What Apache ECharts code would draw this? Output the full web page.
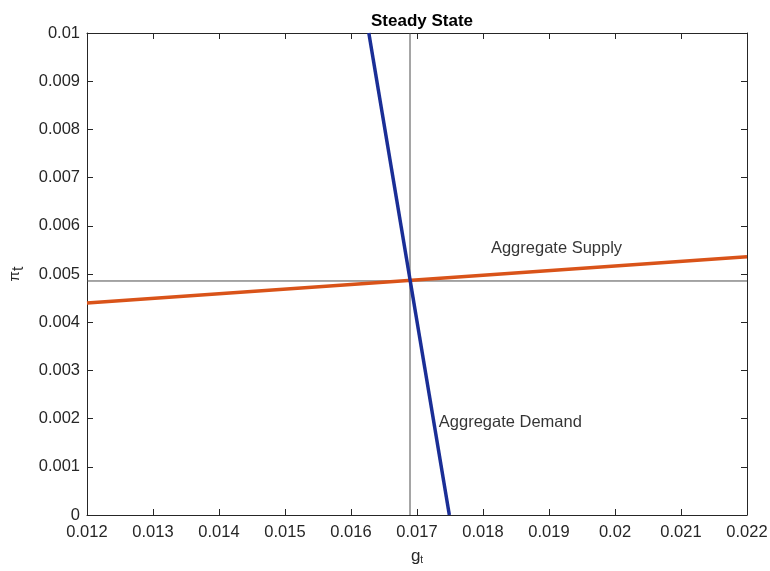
<!DOCTYPE html>
<html><head><meta charset="utf-8">
<script src="https://cdn.jsdelivr.net/npm/echarts@6/dist/echarts.min.js"></script>
<style>html,body{margin:0;padding:0;background:#fff}#c{width:770px;height:571px}</style>
</head><body><div id="c"></div>
<script>
// Data
var asG = [0.012, 0.022];
var asPi = [0.0044, 0.00536];
var adG = [0.01627, 0.01749];
var adPi = [0.01, 0.0];
var ssG = 0.016894;
var ssPi = 0.004855;
var asLabel = {text: 'Aggregate Supply', g: 0.01812, pi: 0.00554};
var adLabel = {text: 'Aggregate Demand', g: 0.01733, pi: 0.00193};

function pairs(xs, ys){ return xs.map(function(x,i){return [x, ys[i]];}); }

var chart = echarts.init(document.getElementById('c'));
var tickColor = '#262626';
var font = 'Liberation Sans, Arial, Helvetica, sans-serif';
var axisCommon = {
  axisLine: {show: true, onZero: false, lineStyle: {color: tickColor, width: 1}},
  axisTick: {show: true, inside: true, length: 6, lineStyle: {color: tickColor}},
  splitLine: {show: false}
};
chart.setOption({
  animation: false,
  backgroundColor: '#fff',
  title: {text: 'Steady State', left: 417, top: 8, textAlign: 'center',
    textStyle: {fontFamily: font, fontSize: 17, fontWeight: 'bold', color: '#000'}},
  grid: {left: 87, right: 23, top: 33, bottom: 56, containLabel: false, outerBoundsMode: 'none'},
  xAxis: [
    Object.assign({type: 'value', min: 0.012, max: 0.022, interval: 0.001, position: 'bottom',
      name: '{m|g}{s|t}', nameLocation: 'middle', nameGap: 32,
      nameTextStyle: {rich: {m: {fontFamily: font, fontSize: 17, color: tickColor}, s: {fontFamily: font, fontSize: 10, color: tickColor, padding:[8,0,0,0]}}},
      axisLabel: {fontFamily: font, fontSize: 16.5, color: tickColor, margin: 9,
        formatter: function(v){ return +v.toFixed(3) + ''; }}}, axisCommon),
    Object.assign({type: 'value', min: 0.012, max: 0.022, interval: 0.001, position: 'top',
      axisLabel: {show: false}}, axisCommon)
  ],
  yAxis: [
    Object.assign({type: 'value', min: 0, max: 0.01, interval: 0.001, position: 'left',
      name: '{m|π}{s|t}', nameLocation: 'middle', nameGap: 60, nameRotate: 90,
      nameTextStyle: {rich: {m: {fontFamily: font, fontSize: 15, color: tickColor}, s: {fontFamily: font, fontSize: 16, color: tickColor, padding:[9,0,0,0]}}},
      axisLabel: {fontFamily: font, fontSize: 16.5, color: tickColor, margin: 7,
        formatter: function(v){ return +v.toFixed(3) + ''; }}}, axisCommon),
    Object.assign({type: 'value', min: 0, max: 0.01, interval: 0.001, position: 'right',
      axisLabel: {show: false}}, axisCommon)
  ],
  series: [
    {type: 'line', data: [[0.012, ssPi], [0.022, ssPi]], symbol: 'none', silent: true,
      lineStyle: {color: '#4d4d4d', width: 1}},
    {type: 'line', data: [[ssG, 0], [ssG, 0.01]], symbol: 'none', silent: true,
      lineStyle: {color: '#4d4d4d', width: 1}},
    {type: 'line', data: pairs(asG, asPi), symbol: 'none', lineStyle: {color: '#D95319', width: 3.5}, z: 3},
    {type: 'line', data: pairs(adG, adPi), symbol: 'none', lineStyle: {color: '#1A2E96', width: 3.5}, z: 4},
    {type: 'scatter', symbolSize: 0, silent: true,
      data: [
        {value: [asLabel.g, asLabel.pi], label: {show: true, formatter: asLabel.text}},
        {value: [adLabel.g, adLabel.pi], label: {show: true, formatter: adLabel.text}}
      ],
      label: {position: 'right', distance: 0, fontFamily: font, fontSize: 16.5, color: '#000', align: 'left'}}
  ]
});
</script></body></html>
